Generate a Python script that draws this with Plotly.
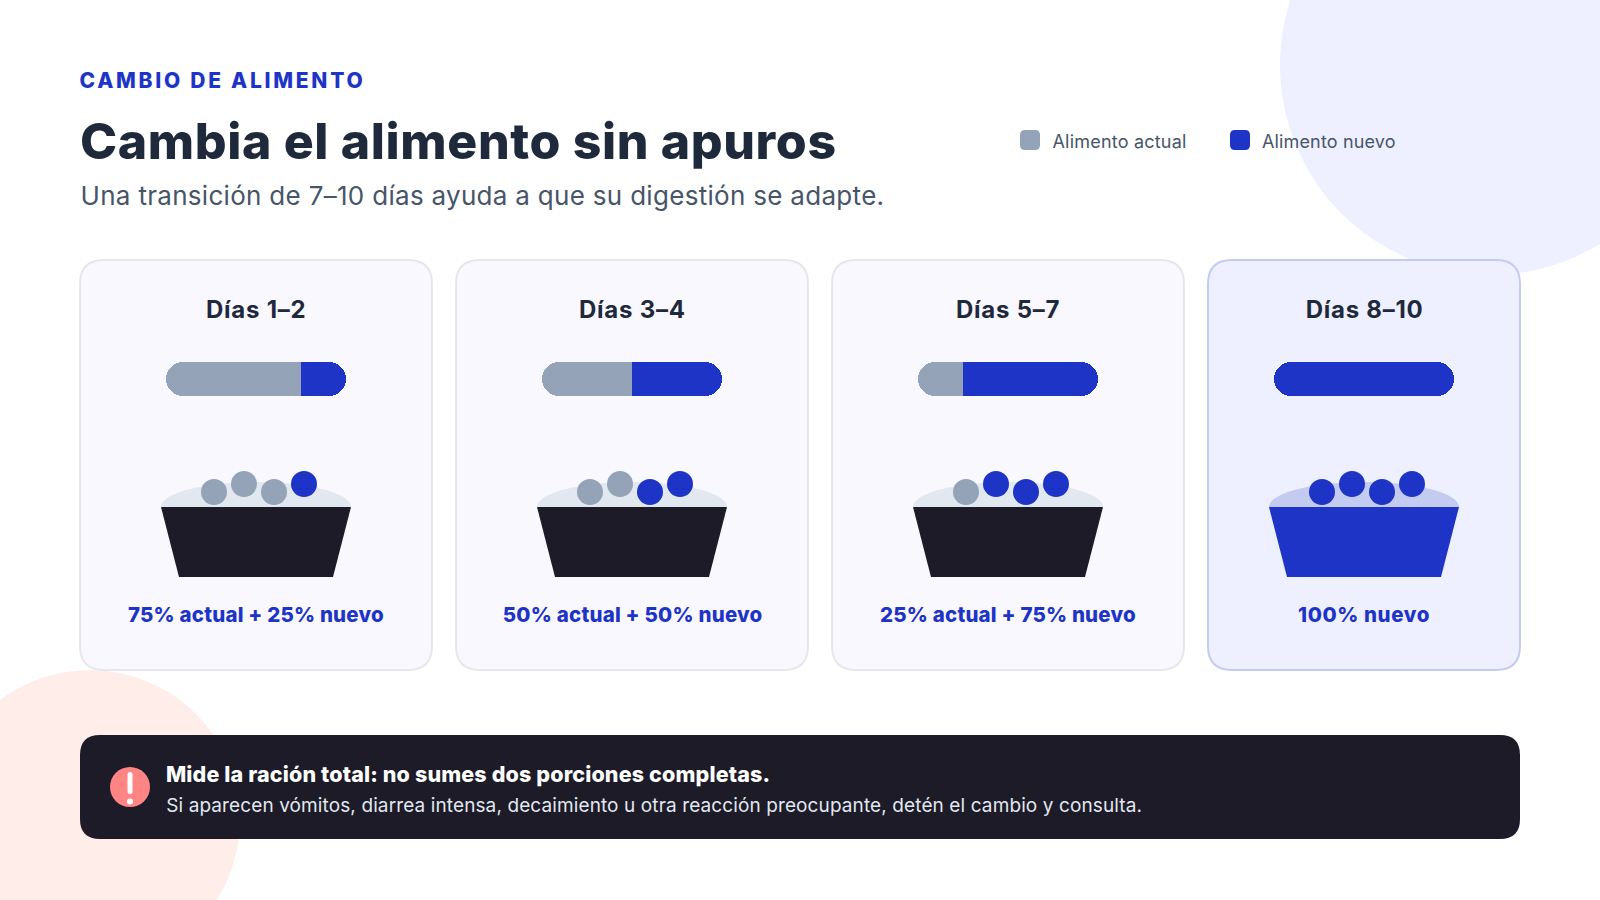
import json
import plotly.graph_objects as go

# ---------- data ----------
stages = ["Días 1–2", "Días 3–4", "Días 5–7", "Días 8–10"]
share_actual = [75, 50, 25, 0]
share_nuevo = [25, 50, 75, 100]
mix_labels = ["75% actual + 25% nuevo", "50% actual + 50% nuevo", "25% actual + 75% nuevo", "100% nuevo"]
series_names = ["Alimento actual", "Alimento nuevo"]
eyebrow = "CAMBIO DE ALIMENTO"
title = "Cambia el alimento sin apuros"
subtitle = "Una transición de 7–10 días ayuda a que su digestión se adapte."
note_head = "Mide la ración total: no sumes dos porciones completas."
note_body = "Si aparecen vómitos, diarrea intensa, decaimiento u otra reacción preocupante, detén el cambio y consulta."

# ---------- style ----------
W, H = 1600, 900
BLUE, GREY, INK, DARK, SLATE = "#1D34C7", "#94A3B8", "#1E293B", "#1C1B27", "#475569"
LAV, LAVB, CARD, CARDB, MOUND = "#EEF0FF", "#C3CBF0", "#FAF8FF", "#E5E7EB", "#E2E8F0"
FONT = "Inter"

cards = [(80, 432), (456, 808), (832, 1184), (1208, 1520)]


def rr(x0, y0, x1, y1, r):
    return (f"M{x0+r},{y0} L{x1-r},{y0} Q{x1},{y0} {x1},{y0+r} L{x1},{y1-r} Q{x1},{y1} {x1-r},{y1} "
            f"L{x0+r},{y1} Q{x0},{y1} {x0},{y1-r} L{x0},{y0+r} Q{x0},{y0} {x0+r},{y0} Z")


shapes = []


def add_path(path, fill, line=None, lw=0):
    shapes.append(dict(type="path", path=path, xref="x", yref="y", fillcolor=fill, layer="below",
                       line=dict(color=line or fill, width=lw)))


def add_circle(cx, cy, r, fill):
    shapes.append(dict(type="circle", xref="x", yref="y", x0=cx-r, x1=cx+r, y0=cy-r, y1=cy+r,
                       fillcolor=fill, line=dict(width=0), layer="below"))


annotations = []
spacing = {}


def add_text(left, right, y, text, size, color, weight=400, track=0):
    # centred on its extent so letter-spacing grows evenly on both sides
    annotations.append(dict(x=(left + right) / 2, y=y, xref="x", yref="y", text=text, showarrow=False,
                            xanchor="center", yanchor="middle", borderpad=0, borderwidth=0,
                            font=dict(family=FONT, size=size, color=color, weight=weight)))
    if track:
        spacing[text] = track


add_circle(1490, 65, 210, LAV)
add_circle(90, 820, 150, "#FFEDEA")

add_text(80, 364, 80, eyebrow, 21, BLUE, 800, 2.73)
add_text(80, 836, 141, title, 50, INK, 800, 0.62)
add_text(80, 884, 195, subtitle, 26, SLATE, 400, 0.3)

add_path(rr(1020, 130, 1040, 150, 5), GREY)
add_path(rr(1230, 130, 1250, 150, 5), BLUE)
add_text(1052, 1187, 141, series_names[0], 18, SLATE, 400, 0.2)
add_text(1262, 1395, 141, series_names[1], 18, SLATE, 400, 0.15)

data = []
dot_x, dot_y, dot_c = [], [], []
dot_offsets = [-42, -12, 18, 48]
dot_levels = [492, 484, 492, 484]
label_track = [0.18, 0.2, 0.18, 0.6]
bar_left = []


def bar_piece(ax, stage, name, color, value):
    return go.Bar(x=[value], y=[stage], orientation="h", name=name,
                  marker=dict(color=color, line=dict(width=0)), xaxis=f"x{ax}", yaxis=f"y{ax}",
                  showlegend=False, hoverinfo="skip")


for i, (x0, x1) in enumerate(cards):
    done = share_nuevo[i] == 100
    cx = (x0 + x1) / 2
    add_path(rr(x0, 260, x1, 670, 24), LAV if done else CARD, LAVB if done else CARDB, 2)
    add_text(cx - 50, cx + 50, 309, stages[i], 24, INK, 700, 0.75)
    add_text(cx - 50, cx + 50, 614, mix_labels[i], 20.5, BLUE, 800, label_track[i])

    # mound (half ellipse) and bowl
    rx, ry, ky = 95, 25, 0.5523
    add_path(f"M{cx-rx},507 C{cx-rx},{507-ry*ky} {cx-rx*ky},482 {cx},482 "
             f"C{cx+rx*ky},482 {cx+rx},{507-ry*ky} {cx+rx},507 Z", LAVB if done else MOUND)
    add_path(f"M{cx-95},507 L{cx+95},507 L{cx+77},577 L{cx-77},577 Z", BLUE if done else DARK)

    # portion dots: one per 25 % share
    n_old = share_actual[i] // 25
    for k in range(4):
        dot_x.append(cx + dot_offsets[k])
        dot_y.append(dot_levels[k])
        dot_c.append(GREY if k < n_old else BLUE)

    # progress bar on its own axes: two pieces growing away from zero, so each outer end is rounded.
    # A 100 % stage has no "actual" piece, so its one colour is split around zero.
    ax = i + 2
    left = share_actual[i] if share_actual[i] else share_nuevo[i] / 2
    bar_left.append(left)
    left_name, left_color = (series_names[0], GREY) if share_actual[i] else (series_names[1], BLUE)
    data.append(bar_piece(ax, stages[i], left_name, left_color, -left))
    data.append(bar_piece(ax, stages[i], series_names[1], BLUE, 100 - left))

data.append(go.Scatter(x=dot_x, y=dot_y, mode="markers", xaxis="x", yaxis="y", showlegend=False,
                       hoverinfo="skip", marker=dict(size=26, color=dot_c, line=dict(width=0))))

# alert banner
add_path(rr(80, 735, 1520, 839, 20), DARK)
add_circle(130, 787, 20, "#FF8585")
add_path(rr(127.5, 772, 132.5, 794, 2.5), "#FFFFFF")
add_circle(130, 801.5, 3, "#FFFFFF")
add_text(166, 770, 773.5, note_head, 21.5, "#FFFFFF", 800, 0.15)
add_text(166, 1141, 805, note_body, 19, "#E2E8F0", 400, 0.11)

hidden = dict(visible=False, showgrid=False, zeroline=False, fixedrange=True)
layout = dict(
    width=W, height=H, margin=dict(l=0, r=0, t=0, b=0), autosize=False,
    paper_bgcolor="#FFFFFF", plot_bgcolor="rgba(0,0,0,0)",
    barmode="relative", bargap=0, barcornerradius=17,
    shapes=shapes, annotations=annotations, showlegend=False,
    xaxis=dict(range=[0, W], domain=[0, 1], **hidden),
    yaxis=dict(range=[H, 0], domain=[0, 1], **hidden),
)
for i, (x0, x1) in enumerate(cards):
    ax = i + 2
    cx = (x0 + x1) / 2
    layout[f"xaxis{ax}"] = dict(range=[-bar_left[i], 100 - bar_left[i]], domain=[(cx-90)/W, (cx+90)/W],
                                anchor=f"y{ax}", **hidden)
    layout[f"yaxis{ax}"] = dict(domain=[1-396/H, 1-362/H], anchor=f"x{ax}", type="category", **hidden)

fig = go.Figure(data=data, layout=layout)
post = """
document.body.style.margin = '0';
document.body.style.overflow = 'hidden';
var tracks = %s;
document.querySelectorAll('.annotation-text').forEach(function (t) {
  var s = tracks[t.textContent];
  if (s) { t.style.letterSpacing = s + 'px'; }
});
""" % json.dumps(spacing, ensure_ascii=False)
fig.write_html("out.html", config={"displayModeBar": False}, post_script=post)
